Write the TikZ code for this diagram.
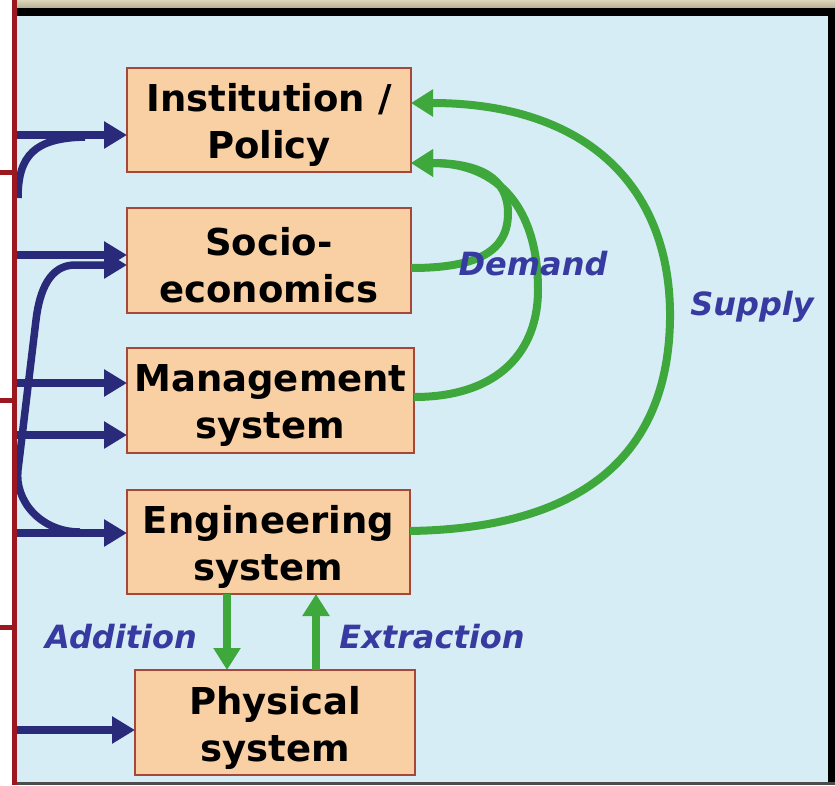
\documentclass[tikz,border=0pt]{standalone}
\usepackage{fontspec}
\setmainfont{DejaVu Sans}
\usetikzlibrary{arrows.meta}
\definecolor{bgblue}{RGB}{214,237,245}
\definecolor{boxfill}{RGB}{249,208,163}
\definecolor{boxborder}{RGB}{165,72,58}
\definecolor{navy}{RGB}{42,42,122}
\definecolor{grn}{RGB}{62,168,60}
\definecolor{lblblue}{RGB}{55,58,160}
\definecolor{darkred}{RGB}{155,25,30}
\definecolor{tan}{RGB}{205,195,160}
\begin{document}
\begin{tikzpicture}[x=1pt,y=-1pt,
  box/.style={draw=boxborder, line width=2pt, fill=boxfill, inner sep=0pt, outer sep=0pt},
  boxtext/.style={inner sep=0pt, align=center, font=\fontsize{37}{47}\selectfont\bfseries},
  bluearr/.style={draw=navy, line width=7.5pt, -{Triangle[length=23pt,width=26pt]}},
  blueline/.style={draw=navy, line width=7.5pt},
  greenarr/.style={draw=grn, line width=8pt, -{Triangle[length=22pt,width=26pt]}},
  lbl/.style={text=lblblue, font=\fontsize{32}{36}\selectfont\bfseries\itshape, anchor=base, inner sep=0pt},
  redline/.style={draw=darkred, line width=5pt}]
\useasboundingbox (0,0) rectangle (835,785);
% background
\fill[white] (0,0) rectangle (14,785);
\fill[bgblue] (14,16) rectangle (828,782);
\shade[top color=tan!70!white, bottom color=tan!90!black] (14,0) rectangle (835,8);
\fill[black] (14,8) rectangle (835,16);
\fill[black] (828,8) rectangle (835,785);
\fill[black!70] (14,782) rectangle (835,785);
% boxes
\node[box, minimum width=284pt, minimum height=104pt] (inst) at (269,120) {};
\node[box, minimum width=284pt, minimum height=105pt] (socio) at (269,260.5) {};
\node[box, minimum width=287pt, minimum height=105pt] (mgmt) at (270.5,400.5) {};
\node[box, minimum width=283pt, minimum height=104pt] (eng) at (268.5,542) {};
\node[box, minimum width=280pt, minimum height=105pt] (phys) at (275,722.5) {};
\node[boxtext] (instT) at ([yshift=-5pt]inst.center) {Institution /\\Policy};
\node[boxtext] (socioT) at ([yshift=-5pt]socio.center) {Socio-\\economics};
\node[boxtext] (mgmtT) at ([yshift=-5pt]mgmt.center) {Management\\system};
\node[boxtext] (engT) at ([yshift=-5pt]eng.center) {Engineering\\system};
\node[boxtext] (physT) at ([yshift=-5pt]phys.center) {Physical\\system};
% blue inputs
\coordinate (b1) at (16,135);
\coordinate (b2) at (16,255);
\coordinate (b3) at (16,383);
\coordinate (b4) at (16,435);
\coordinate (b5) at (16,533);
\coordinate (b6) at (16,730);
\coordinate (c1) at (18,198);
\coordinate (c2) at (80,532);
\draw[bluearr] (b1) -- (b1 -| inst.west);
\draw[bluearr] (b2) -- (b2 -| socio.west);
\draw[bluearr] (b3) -- (b3 -| mgmt.west);
\draw[bluearr] (b4) -- (b4 -| mgmt.west);
\draw[bluearr] (b5) -- (b5 -| eng.west);
\draw[bluearr] (b6) -- (b6 -| phys.west);
\draw[blueline] (c1) .. controls (18,155) and (35,138) .. (85,137);
\draw[bluearr] (c2) .. controls (40,532) and (14.4,500) .. (18,470) -- (36,320)
  .. controls (39.6,290) and (50,265) .. (75,265) -- ([yshift=-4.5pt]socio.west);
% green loops
\draw[greenarr] ([yshift=-7.5pt]socio.east) .. controls (480,268) and (508,250) .. (508,213)
  .. controls (508,178) and (480,163) .. ([yshift=-43pt]inst.east);
\draw[greenarr] ([yshift=3.5pt]mgmt.east) .. controls (500,397) and (538,350) .. (538,290)
  .. controls (538,210) and (500,163) .. ([yshift=-43pt]inst.east);
\draw[greenarr] ([yshift=11pt]eng.east) .. controls (600,528) and (668,440) .. (670,320)
  .. controls (672,190) and (590,103) .. ([yshift=17pt]inst.east);
\draw[greenarr] ([xshift=-41.5pt]eng.south) -- ([xshift=-48pt]phys.north);
\draw[greenarr] ([xshift=41pt]phys.north) -- ([xshift=47.5pt]eng.south);
% labels
\node[lbl] (demand) at (533,275) {Demand};
\node[lbl] (supply) at (752,315) {Supply};
\node[lbl] (addition) at (121,648) {Addition};
\node[lbl] (extraction) at (432,648) {Extraction};
% red frame lines
\draw[redline] (14,0) -- (14,785);
\draw[redline] (0,172) -- (14,172);
\draw[redline] (0,400) -- (14,400);
\draw[redline] (0,627) -- (14,627);
\end{tikzpicture}
\end{document}
